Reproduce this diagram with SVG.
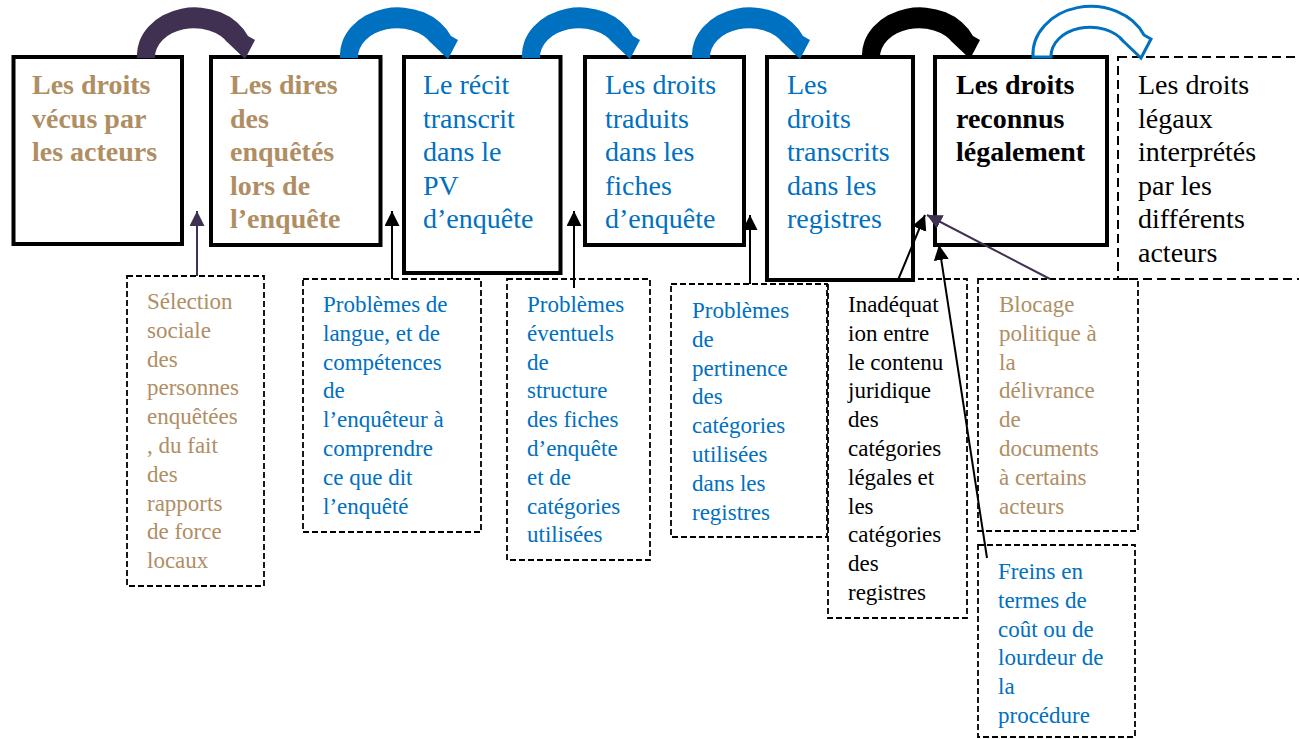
<svg xmlns="http://www.w3.org/2000/svg" xmlns:xlink="http://www.w3.org/1999/xlink" width="1299" height="739" viewBox="0 0 1299 739" font-family="'Liberation Serif', 'DejaVu Serif', serif">
<style>
  text { font-family: 'Liberation Serif', 'DejaVu Serif', serif; }
  .main { font-size: 28px; }
  .sub { font-size: 23px; }
  .bold { font-weight: bold; }
  .tan { fill: #B08E64; }
  .blue { fill: #0070C0; }
  .black { fill: #000000; }
  .box { fill: #ffffff; stroke: #000000; stroke-width: 4; }
  .dbox { fill: none; stroke: #000000; stroke-width: 1.8; stroke-dasharray: 6 3; }
  .dbox-main { fill: none; stroke: #000000; stroke-width: 2; stroke-dasharray: 9 5; }
  .conn { fill: none; stroke: #000000; stroke-width: 2; }
  .conn-p { fill: none; stroke: #403152; stroke-width: 2; }
</style>
<defs>
  <path id="arc" d="M0,0 A58,48 0 0 1 111,-22 L118,-18 L108,1 L87,-19 L91,-15 A39,29 0 0 0 18,0 Z"/>
  <marker id="hb" markerUnits="userSpaceOnUse" markerWidth="16" markerHeight="16" refX="15" refY="7.5" orient="auto">
    <path d="M0,0 L15,7.5 L0,15 Z" fill="#000000"/>
  </marker>
  <marker id="hp" markerUnits="userSpaceOnUse" markerWidth="16" markerHeight="16" refX="15" refY="7.5" orient="auto">
    <path d="M0,0 L15,7.5 L0,15 Z" fill="#403152"/>
  </marker>
</defs>
<rect width="1299" height="739" fill="#ffffff"/>

<g id="n1">
  <rect class="box" x="13.5" y="57" width="168.5" height="187"/>
  <text class="main bold tan"><tspan x="32" y="94">Les droits</tspan><tspan x="32" y="127.5">vécus par</tspan><tspan x="32" y="161">les acteurs</tspan></text>
</g>
<g id="n2">
  <rect class="box" x="211" y="57" width="169.5" height="188"/>
  <text class="main bold tan"><tspan x="230" y="94">Les dires</tspan><tspan x="230" y="127.5">des</tspan><tspan x="230" y="161">enquêtés</tspan><tspan x="230" y="194.5">lors de</tspan><tspan x="230" y="228">l’enquête</tspan></text>
</g>
<g id="n3">
  <rect class="box" x="404" y="57" width="156.5" height="216"/>
  <text class="main blue"><tspan x="423" y="94">Le récit</tspan><tspan x="423" y="127.5">transcrit</tspan><tspan x="423" y="161">dans le</tspan><tspan x="423" y="194.5">PV</tspan><tspan x="423" y="228">d’enquête</tspan></text>
</g>
<g id="n4">
  <rect class="box" x="585" y="57" width="159" height="188"/>
  <text class="main blue"><tspan x="605" y="94">Les droits</tspan><tspan x="605" y="127.5">traduits</tspan><tspan x="605" y="161">dans les</tspan><tspan x="605" y="194.5">fiches</tspan><tspan x="605" y="228">d’enquête</tspan></text>
</g>
<g id="n5">
  <rect class="box" x="767" y="57" width="146" height="223"/>
  <text class="main blue"><tspan x="787" y="94">Les</tspan><tspan x="787" y="127.5">droits</tspan><tspan x="787" y="161">transcrits</tspan><tspan x="787" y="194.5">dans les</tspan><tspan x="787" y="228">registres</tspan></text>
</g>
<g id="n6">
  <rect class="box" x="935" y="57" width="172" height="188"/>
  <text class="main bold black"><tspan x="956" y="94">Les droits</tspan><tspan x="956" y="127.5">reconnus</tspan><tspan x="956" y="161">légalement</tspan></text>
</g>
<g id="n7">
  <rect class="dbox-main" x="1118" y="57" width="200" height="222"/>
  <text class="main black"><tspan x="1138" y="94">Les droits</tspan><tspan x="1138" y="127.5">légaux</tspan><tspan x="1138" y="161">interprétés</tspan><tspan x="1138" y="194.5">par les</tspan><tspan x="1138" y="228">différents</tspan><tspan x="1138" y="261.5">acteurs</tspan></text>
</g>

<g id="n8">
  <rect class="dbox" x="127" y="276" width="137" height="310"/>
  <text class="sub tan"><tspan x="147" y="309">Sélection</tspan><tspan x="147" y="337.8">sociale</tspan><tspan x="147" y="366.6">des</tspan><tspan x="147" y="395.4">personnes</tspan><tspan x="147" y="424.2">enquêtées</tspan><tspan x="147" y="453">, du fait</tspan><tspan x="147" y="481.8">des</tspan><tspan x="147" y="510.6">rapports</tspan><tspan x="147" y="539.4">de force</tspan><tspan x="147" y="568.2">locaux</tspan></text>
</g>
<g id="n9">
  <rect class="dbox" x="303" y="279" width="178" height="253"/>
  <text class="sub blue"><tspan x="323" y="312">Problèmes de</tspan><tspan x="323" y="340.8">langue, et de</tspan><tspan x="323" y="369.6">compétences</tspan><tspan x="323" y="398.4">de</tspan><tspan x="323" y="427.2">l’enquêteur à</tspan><tspan x="323" y="456">comprendre</tspan><tspan x="323" y="484.8">ce que dit</tspan><tspan x="323" y="513.6">l’enquêté</tspan></text>
</g>
<g id="n10">
  <rect class="dbox" x="507" y="279" width="143" height="281"/>
  <text class="sub blue"><tspan x="527" y="312">Problèmes</tspan><tspan x="527" y="340.8">éventuels</tspan><tspan x="527" y="369.6">de</tspan><tspan x="527" y="398.4">structure</tspan><tspan x="527" y="427.2">des fiches</tspan><tspan x="527" y="456">d’enquête</tspan><tspan x="527" y="484.8">et de</tspan><tspan x="527" y="513.6">catégories</tspan><tspan x="527" y="542.4">utilisées</tspan></text>
</g>
<g id="n11">
  <rect class="dbox" x="671" y="284" width="156" height="253"/>
  <text class="sub blue"><tspan x="692" y="318">Problèmes</tspan><tspan x="692" y="346.8">de</tspan><tspan x="692" y="375.6">pertinence</tspan><tspan x="692" y="404.4">des</tspan><tspan x="692" y="433.2">catégories</tspan><tspan x="692" y="462">utilisées</tspan><tspan x="692" y="490.8">dans les</tspan><tspan x="692" y="519.6">registres</tspan></text>
</g>
<g id="n12">
  <rect class="dbox" x="828" y="279" width="139" height="339"/>
  <text class="sub black"><tspan x="848" y="312">Inadéquat</tspan><tspan x="848" y="340.8">ion entre</tspan><tspan x="848" y="369.6">le contenu</tspan><tspan x="848" y="398.4">juridique</tspan><tspan x="848" y="427.2">des</tspan><tspan x="848" y="456">catégories</tspan><tspan x="848" y="484.8">légales et</tspan><tspan x="848" y="513.6">les</tspan><tspan x="848" y="542.4">catégories</tspan><tspan x="848" y="571.2">des</tspan><tspan x="848" y="600">registres</tspan></text>
</g>
<g id="n13">
  <rect class="dbox" x="978" y="279" width="160" height="252"/>
  <text class="sub tan"><tspan x="999" y="312">Blocage</tspan><tspan x="999" y="340.8">politique à</tspan><tspan x="999" y="369.6">la</tspan><tspan x="999" y="398.4">délivrance</tspan><tspan x="999" y="427.2">de</tspan><tspan x="999" y="456">documents</tspan><tspan x="999" y="484.8">à certains</tspan><tspan x="999" y="513.6">acteurs</tspan></text>
</g>
<g id="n14">
  <rect class="dbox" x="978" y="545" width="157" height="192"/>
  <text class="sub blue"><tspan x="998" y="579">Freins en</tspan><tspan x="998" y="607.8">termes de</tspan><tspan x="998" y="636.6">coût ou de</tspan><tspan x="998" y="665.4">lourdeur de</tspan><tspan x="998" y="694.2">la</tspan><tspan x="998" y="723">procédure</tspan></text>
</g>

<g id="connectors">
  <use xlink:href="#arc" transform="translate(137,58)" fill="#403152"/>
  <use xlink:href="#arc" transform="translate(340,58)" fill="#0070C0"/>
  <use xlink:href="#arc" transform="translate(522,58)" fill="#0070C0"/>
  <use xlink:href="#arc" transform="translate(692,58)" fill="#0070C0"/>
  <use xlink:href="#arc" transform="translate(862,58)" fill="#000000"/>
  <use xlink:href="#arc" transform="translate(1033,57)" fill="#ffffff" stroke="#0070C0" stroke-width="3"/>
  <line class="conn-p" x1="197" y1="276" x2="197" y2="211" marker-end="url(#hp)"/>
  <line class="conn" x1="392" y1="279" x2="392" y2="211" marker-end="url(#hb)"/>
  <line class="conn" x1="574" y1="288" x2="574" y2="211" marker-end="url(#hb)"/>
  <line class="conn" x1="750" y1="284" x2="750" y2="215" marker-end="url(#hb)"/>
  <line class="conn" x1="898" y1="280" x2="925" y2="215" marker-end="url(#hb)"/>
  <line class="conn" x1="987" y1="558" x2="939" y2="245" marker-end="url(#hb)"/>
  <line class="conn-p" x1="1050" y1="279" x2="927" y2="215" marker-end="url(#hp)"/>
</g>
</svg>
